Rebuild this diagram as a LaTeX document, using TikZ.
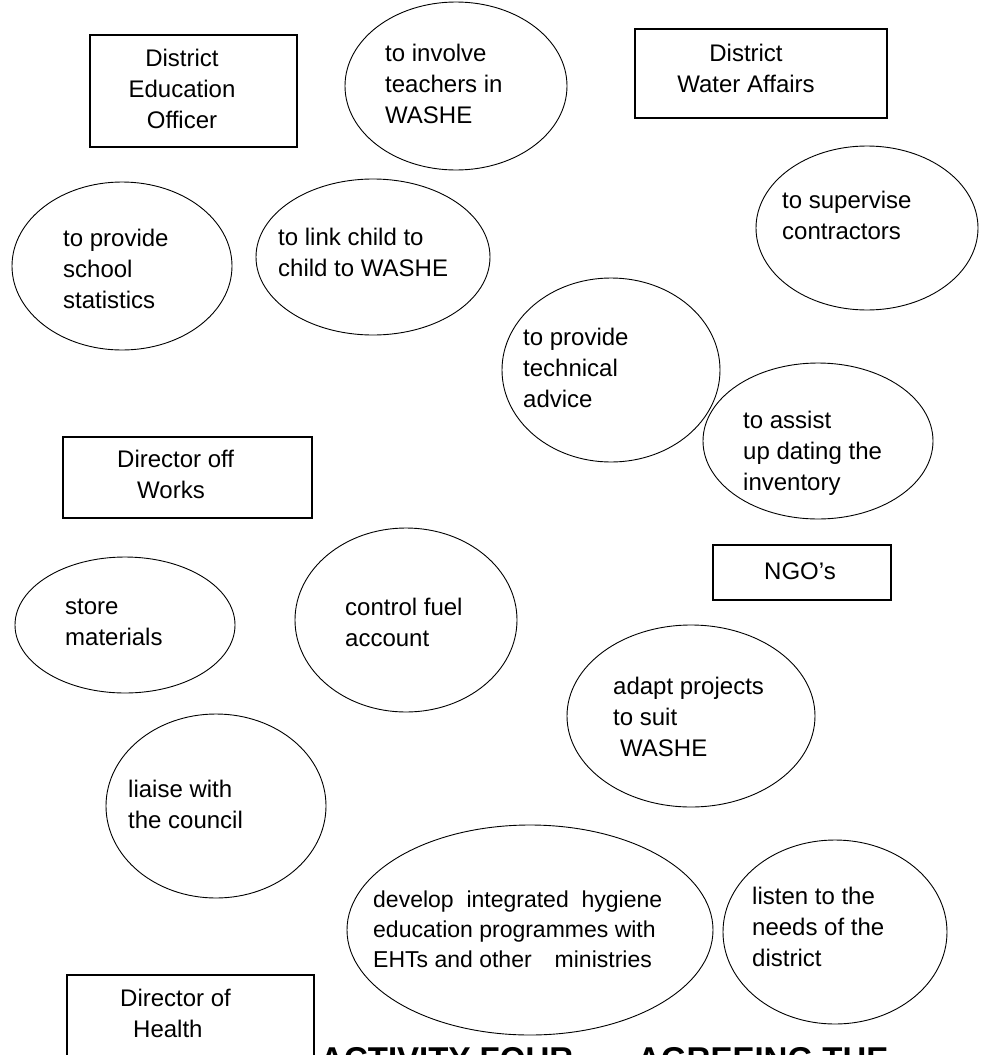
\documentclass[tikz,border=0pt]{standalone}
\usepackage{fontspec}
\setmainfont{Liberation Sans}
\usetikzlibrary{shapes.geometric}

\begin{document}
\begin{tikzpicture}[x=1pt, y=-1pt,
  role/.style={draw, line width=1.1pt, inner sep=0pt},
  task/.style={draw, ellipse, line width=0.9pt, inner sep=0pt},
  say/.style={anchor=west, align=left, inner sep=0pt, font=\fontsize{24}{31}\selectfont}]
\useasboundingbox (0,0) rectangle (987,1055);
\fill[white] (0,0) rectangle (987,1055);
\clip (0,0) rectangle (987,1055);

% the officers
\node[role, minimum width=207pt, minimum height=112pt] (deo) at (193.5,91) {};
\node[say, anchor=center, align=center] (deo-t) at (182,89) {District\\Education\\Officer};

\node[role, minimum width=252pt, minimum height=89pt] (dwa) at (761,73.5) {};
\node[say, anchor=center, align=center] (dwa-t) at (746,68) {District\\Water Affairs};

\node[role, minimum width=249pt, minimum height=81pt] (dow) at (187.5,477.5) {};
\node[say] (dow-t) at (117,474) {Director off\\\hspace*{20pt}Works};

\node[role, minimum width=178pt, minimum height=55pt] (ngo) at (802,572.5) {};
\node[say, anchor=center] (ngo-t) at (800,571) {NGO's};

\node[role, minimum width=247pt, minimum height=160pt] (doh) at (190.5,1055) {};
\node[say] (doh-t) at (120,1013) {Director of\\\hspace*{13pt}Health};

% what they do
\node[task, minimum width=222pt, minimum height=168pt] (teach) at (456,86) {};
\node[say] (teach-t) at (385,84) {to involve\\teachers in\\WASHE};

\node[task, minimum width=220pt, minimum height=168pt] (stats) at (122,266) {};
\node[say] (stats-t) at (63,269) {to provide\\school\\statistics};

\node[task, minimum width=234pt, minimum height=156pt] (ctc) at (373,257) {};
\node[say] (ctc-t) at (278,252) {to link child to\\child to WASHE};

\node[task, minimum width=222pt, minimum height=164pt] (superv) at (867,228) {};
\node[say] (superv-t) at (782,215) {to supervise\\contractors};

\node[task, minimum width=218pt, minimum height=184pt] (advice) at (611,370) {};
\node[say] (advice-t) at (523,368) {to provide\\technical\\advice};

\node[task, minimum width=230pt, minimum height=156pt] (invent) at (818,441) {};
\node[say] (invent-t) at (743,453) {to assist\\up dating the\\inventory};

\node[task, minimum width=220pt, minimum height=136pt] (store) at (125,625) {};
\node[say] (store-t) at (65,622) {store\\materials};

\node[task, minimum width=222pt, minimum height=184pt] (fuel) at (406,620) {};
\node[say] (fuel-t) at (345,622) {control fuel\\account};

\node[task, minimum width=220pt, minimum height=184pt] (liaise) at (216,806) {};
\node[say] (liaise-t) at (128,804) {liaise with\\the council};

\node[task, minimum width=248pt, minimum height=182pt] (adapt) at (691,716) {};
\node[say] (adapt-t) at (613,717) {adapt projects\\to suit\\\hspace*{7pt}WASHE};

\node[task, minimum width=366pt, minimum height=210pt] (hyg) at (530,930) {};
\node[say, font=\fontsize{23}{30}\selectfont] (hyg-t) at (373,929) {develop\ \ integrated\ \ hygiene\\education programmes with\\EHTs and other\quad ministries};

\node[task, minimum width=224pt, minimum height=184pt] (listen) at (835,932) {};
\node[say] (listen-t) at (752,927) {listen to the\\needs of the\\district};

% heading, cut by the page edge
\node[anchor=north west, inner sep=0pt, font=\fontsize{33}{33}\selectfont\bfseries] (head) at (320,1047) {ACTIVITY FOUR\hspace{64pt}AGREEING THE};
\end{tikzpicture}
\end{document}
